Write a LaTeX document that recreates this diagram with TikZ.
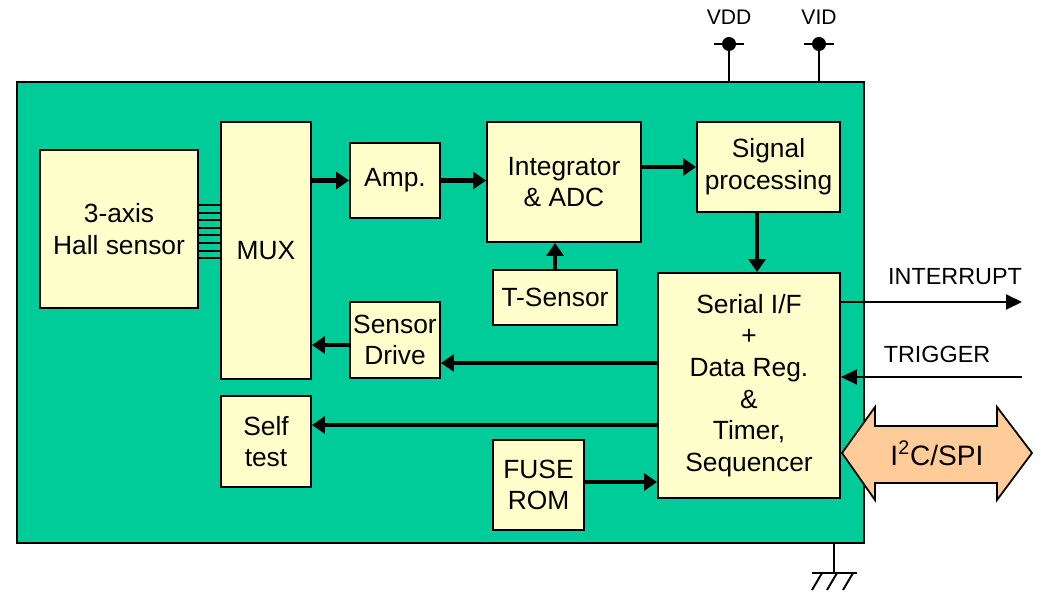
\documentclass[tikz,border=0pt]{standalone}
\usepackage{fontspec}
\setmainfont{Liberation Sans}
\usetikzlibrary{arrows.meta}
\definecolor{chipgreen}{HTML}{00CC99}
\definecolor{blockfill}{HTML}{FFFFCC}
\definecolor{busfill}{HTML}{FFCC99}
\begin{document}
\begin{tikzpicture}[
        >={Triangle}, % 箭头样式
        blk/.style={draw=black, line width=1.1pt, fill=blockfill, align=center,
            font=\fontsize{15}{18}\selectfont, inner sep=0pt},
        bigarrow/.style={line width=2.8pt, -{Triangle[length=0.26cm, width=0.34cm]}},
        sigarrow/.style={line width=1.1pt, -{Triangle[length=0.32cm, width=0.3cm]}},
        pinlabel/.style={font=\fontsize{12}{14}\selectfont},
        siglabel/.style={font=\fontsize{13.3}{16}\selectfont}
    ]
    \useasboundingbox (0,0) rectangle (20.82,11.84);

    % 芯片外框
    \node[draw=black, line width=1.1pt, fill=chipgreen, minimum width=16.94cm,
        minimum height=9.22cm, inner sep=0pt] (chip) at (8.81,5.59) {};

    % 各功能模块
    \node[blk, minimum width=3.16cm, minimum height=3.16cm] (hall) at (2.38,7.26) {3-axis\\Hall sensor};
    \node[blk, minimum width=1.8cm, minimum height=5.14cm] (mux) at (5.32,6.83) {MUX};
    \node[blk, minimum width=1.8cm, minimum height=1.5cm] (amp) at (7.9,8.23) {Amp.};
    \node[blk, minimum width=3.08cm, minimum height=2.4cm] (adc) at (11.28,8.2) {Integrator\\\& ADC};
    \node[blk, minimum width=2.86cm, minimum height=1.8cm] (sig) at (15.37,8.5) {Signal\\processing};
    \node[blk, minimum width=2.48cm, minimum height=1.1cm] (tsen) at (11.1,5.89) {T-Sensor};
    \node[blk, minimum width=3.64cm, minimum height=4.5cm] (ser) at (14.98,4.13)
        {Serial I/F\\+\\Data Reg.\\\&\\Timer,\\Sequencer};
    \node[blk, minimum width=1.8cm, minimum height=1.52cm] (drv) at (7.9,5.04) {Sensor\\Drive};
    \node[blk, minimum width=1.8cm, minimum height=1.82cm] (self) at (5.32,3.01) {Self\\test};
    \node[blk, minimum width=1.82cm, minimum height=1.8cm] (fuse) at (10.77,2.14) {FUSE\\ROM};

    % 霍尔传感器与 MUX 之间的连线
    \foreach \i in {0,...,7}
        \draw[line width=1.1pt] (hall.east |- 0,{7.74-0.152*\i}) -- (mux.west |- 0,{7.74-0.152*\i});

    % 内部信号箭头
    \draw[bigarrow] (mux.east |- amp.west) -- (amp.west);
    \draw[bigarrow] (amp.east) -- (amp.east -| adc.west);
    \draw[bigarrow] (adc.east |- sig.west) -- (sig.west);
    \draw[bigarrow] (sig.south -| 15.14,0) -- (ser.north -| 15.14,0);
    \draw[bigarrow] (tsen.north) -- (tsen.north |- adc.south);
    \draw[bigarrow] (ser.west |- 0,4.58) -- (drv.east |- 0,4.58);
    \draw[bigarrow] (drv.west |- 0,4.94) -- (mux.east |- 0,4.94);
    \draw[bigarrow] (ser.west |- 0,3.34) -- (self.east |- 0,3.34);
    \draw[bigarrow] (fuse.east |- 0,2.2) -- (ser.west |- 0,2.2);

    % 外部信号
    \coordinate (intr) at (20.44,5.8);
    \coordinate (trig) at (20.44,4.3);
    \draw[sigarrow] (ser.east |- intr) -- (intr);
    \draw[sigarrow] (trig) -- (ser.east |- trig);
    \node[siglabel] at (19.1,6.3) {INTERRUPT};
    \node[siglabel] at (18.74,4.76) {TRIGGER};

    % I2C/SPI 总线
    \draw[line width=1pt, fill=busfill] (16.84,2.78) -- (17.5,3.7) -- (17.5,3.32) -- (19.94,3.32)
        -- (19.94,3.7) -- (20.64,2.78) -- (19.94,1.84) -- (19.94,2.18) -- (17.5,2.18)
        -- (17.5,1.84) -- cycle;
    \node[font=\fontsize{16}{19}\selectfont] (bus) at (18.74,2.78) {I\textsuperscript{2}C/SPI};

    % 电源引脚 VDD, VID
    \foreach \x/\name in {14.58/VDD, 16.38/VID} {
        \draw[line width=1.1pt] (\x,10.96) -- (chip.north -| \x,0);
        \draw[line width=1.1pt] (\x-0.3,10.96) -- (\x+0.3,10.96);
        \fill (\x,10.96) circle (0.14);
        \node[pinlabel] at (\x,11.5) {\name};
    }

    % 接地符号
    \coordinate (gnd) at (16.68,0.38);
    \draw[line width=1.1pt] (chip.south -| gnd) -- (gnd);
    \draw[line width=1.1pt] (16.24,0.38) -- (17.14,0.38);
    \foreach \x in {16.44,16.74,17.06}
        \draw[line width=1.1pt] (\x,0.38) -- (\x-0.2,0.04);
\end{tikzpicture}
\end{document}
